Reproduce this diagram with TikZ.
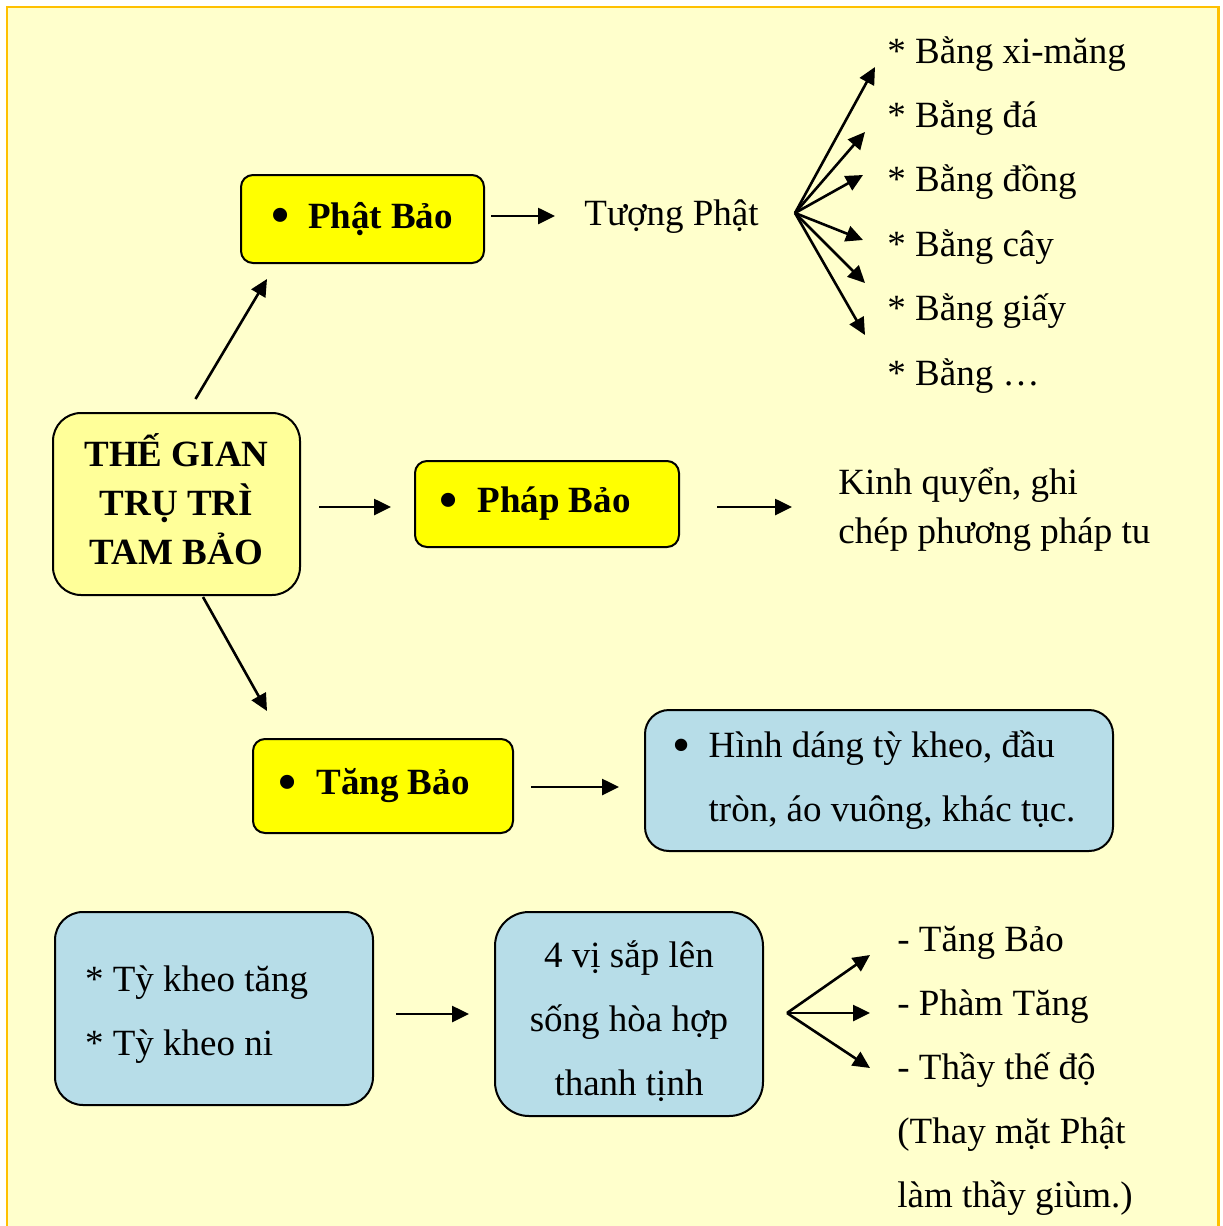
\documentclass[tikz,border=0pt]{standalone}
\usepackage{fontspec}
\usepackage{graphicx}
\setmainfont{Liberation Serif}
\usetikzlibrary{positioning,arrows.meta,calc}

\definecolor{paper}{HTML}{FFFFCC}
\definecolor{framecol}{HTML}{FFC000}
\definecolor{rootfill}{HTML}{FFFF99}
\definecolor{baofill}{HTML}{FFFF00}
\definecolor{notefill}{HTML}{B7DDE8}

\newcommand{\bigdot}{\raisebox{-0.12em}{\scalebox{1.4}{\textbullet}}}

\begin{document}
\begin{tikzpicture}[
	x=0.5pt, y=-0.5pt,
	font=\fontsize{18.5}{24.5}\selectfont,
	arr/.style={draw, line width=1.3pt, -{Triangle[length=8.5pt,width=8pt]}},
	root/.style={
		draw=black,
		line width=1pt,
		rounded corners=14pt,
		fill=rootfill,
		minimum width=123.5pt,
		minimum height=91pt,
		align=center,
		font=\fontsize{18.5}{24.5}\selectfont\bfseries
	},
	bao/.style={
		draw=black,
		line width=1pt,
		rounded corners=6pt,
		fill=baofill,
		font=\fontsize{18.5}{24.5}\selectfont\bfseries
	},
	note/.style={
		draw=black,
		line width=1pt,
		rounded corners=12pt,
		fill=notefill,
		font=\fontsize{18.5}{32}\selectfont
	},
	item/.style={inner sep=0pt, text height=13pt, text depth=4pt, anchor=base west}
	]
	
	\useasboundingbox (0,0) rectangle (1222,1226);
	\begin{scope}
		\clip (0,0) rectangle (1222,1226);
		\draw[framecol, line width=1.25pt, fill=paper] (7,7) rectangle (1218.5,1250);
	\end{scope}
	
	% the three jewels
	\node[root] (root) at (176.5,504) {THẾ GIAN\\TRỤ TRÌ\\TAM BẢO\rule[-5pt]{0pt}{0pt}};
	\node[bao, minimum width=121.5pt, minimum height=44pt] (phat) at (362.5,219)
	{\bigdot\hspace{9pt}Phật Bảo};
	\node[bao, minimum width=132pt, minimum height=43pt] (phap) at (547,504)
	{\bigdot\hspace{10pt}Pháp Bảo\kern12pt};
	\node[bao, minimum width=130pt, minimum height=47pt] (tang) at (383,786)
	{\bigdot\hspace{10pt}Tăng Bảo\kern9pt};
	
	% Phat Bao
	\node[item] (tuong) at (584,225) {Tượng Phật};
	\foreach \t [count=\i] in {xi-măng, đá, đồng, cây, giấy, …}
	\node[item] (b\i) at (887,{63+64.4*(\i-1)}) {* Bằng \t};
	
	% Phap Bao
	\node[anchor=west, inner sep=0pt, align=left] (kinh) at (838,510)
	{Kinh quyển, ghi\\chép phương pháp tu};
	
	% Tang Bao
	\node[note, minimum width=234pt, minimum height=70.5pt, align=left] (hinh) at (879,780.5)
	{\bigdot\hspace{9pt}Hình dáng tỳ kheo, đầu\\\phantom{\bigdot}\hspace{9pt}tròn, áo vuông, khác tục.\kern5pt};
	
	% bottom row
	\node[note, minimum width=159pt, minimum height=96.5pt, align=left,
	rounded corners=14pt] (tykheo) at (214,1008.5)
	{\rule{0pt}{19pt}* Tỳ kheo tăng\kern17.5pt\\{*} Tỳ kheo ni};
	\node[note, minimum width=134pt, minimum height=102pt, align=center,
	rounded corners=17pt] (vi) at (629,1014)
	{\rule{0pt}{21pt}4 vị sắp lên\\sống hòa hợp\\thanh tịnh};
	\node[item] (t1) at (897,951) {- Tăng Bảo};
	\node[item] (t2) at (897,1015) {- Phàm Tăng};
	\node[item] (t3) at (897,1079) {- Thầy thế độ};
	\node[item] (t4) at (897,1143) {(Thay mặt Phật};
	\node[item] (t5) at (897,1207) {làm thầy giùm.)};
	
	% connectors
	\draw[arr] ([shift={(19,-13)}]root.north) -- ([shift={(27,15)}]phat.south west);
	\draw[arr] ($(phat.east |- tuong.west)+(6,0)$) -- ([xshift=-14.5pt]tuong.west);
	\draw[arr] ($(root.east)+(18,3)$) -- ($(phap.west)+(-23,3)$);
	\draw[arr] ($(phap.east)+(37,3)$) -- ($(phap.east -| kinh.west)+(-46,3)$);
	\draw[arr] ([shift={(26.5,1)}]root.south) -- ([shift={(15,-27)}]tang.north west);
	\draw[arr] ($(tang.east)+(17,1)$) -- ($(tang.east -| hinh.west)+(-25,1)$);
	\draw[arr] ($(vi.west -| tykheo.east)+(22,0)$) -- ($(vi.west)+(-25,0)$);
	
	\coordinate (fan) at (795,213);
	\foreach \x/\y [count=\i] in {875/67,865/132,863/175,863/240,865/283,865/335}
	\coordinate (f\i) at (\x,\y);
	\foreach \i in {1,...,6}
	\draw[arr] (fan) -- (f\i);
	
	\coordinate (fanb) at (787,1013);
	\coordinate (g1) at (870,955);
	\coordinate (g2) at (870,1013);
	\coordinate (g3) at (870,1068);
	\foreach \i in {1,2,3}
	\draw[arr] (fanb) -- (g\i);
\end{tikzpicture}
\end{document}
